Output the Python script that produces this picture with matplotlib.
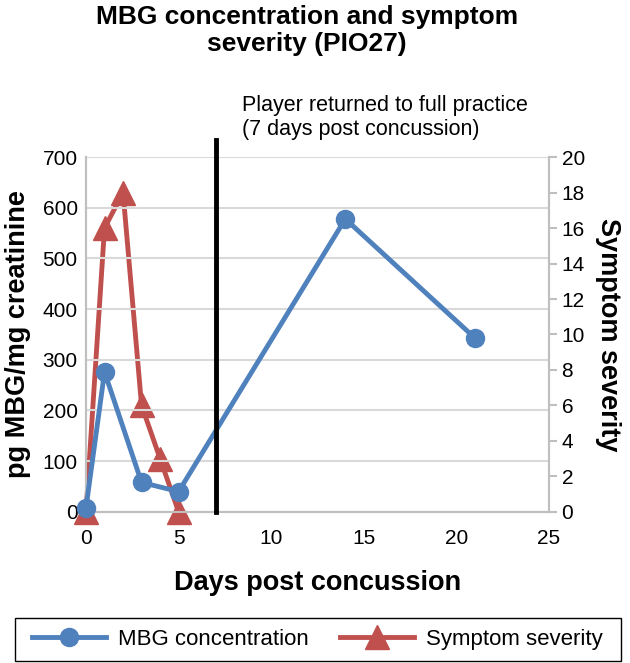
import matplotlib.pyplot as plt
from matplotlib.patches import Rectangle

plt.rcParams['font.family'] = ['Liberation Sans', 'DejaVu Sans']

mbg_days = [0, 1, 3, 5, 14, 21]
mbg_values = [8, 276, 58, 40, 578, 343]
sym_days = [0, 1, 2, 3, 4, 5]
sym_values = [0, 16, 18, 6, 3, 0]
return_day = 7

blue = '#4F81BD'
red = '#C0504D'
grey = '#BFBFBF'

fig = plt.figure(figsize=(6.3, 6.63), dpi=100)
ax = fig.add_axes([0.1365, 0.228, 0.735, 0.535])
ax2 = ax.twinx()

l1, = ax.plot(mbg_days, mbg_values, color=blue, lw=3.5, marker='o', ms=13,
              label='MBG concentration', zorder=3, clip_on=False)
l2, = ax2.plot(sym_days, sym_values, color=red, lw=3.5, marker='^', ms=17,
               label='Symptom severity', zorder=3, clip_on=False)
ax.set_zorder(ax2.get_zorder() + 1)
ax.patch.set_visible(False)

ax.axvline(return_day, color='black', lw=3.5, ymin=0, ymax=1.048, clip_on=False, zorder=4)
ax.text(return_day + 1.4, 822, 'Player returned to full practice\n(7 days post concussion)',
        fontsize=15.5, va='top', ha='left', linespacing=1.15)

ax.set_xlim(0, 25)
ax.set_ylim(0, 700)
ax2.set_ylim(0, 20)
ax.set_xticks(range(0, 26, 5))
ax.set_yticks(range(0, 701, 100))
ax2.set_yticks(range(0, 21, 2))

ax.grid(axis='y', color='#D9D9D9', lw=1.5)
for a in (ax, ax2):
    a.spines['top'].set_visible(False)
    for s in ('left', 'right', 'bottom'):
        a.spines[s].set_color(grey)
        a.spines[s].set_linewidth(1.5)
ax.tick_params(axis='x', labelsize=15, length=0, pad=12)
ax.tick_params(axis='y', labelsize=15, length=0, pad=6)
ax2.tick_params(axis='y', labelsize=15, length=6, color=grey, width=1.5, pad=3)

ax.set_xlabel('Days post concussion', fontsize=19.5, fontweight='bold', labelpad=16)
ax.set_ylabel('pg MBG/mg creatinine', fontsize=19.5, fontweight='bold', labelpad=8)
ax2.set_ylabel('Symptom severity', fontsize=19.5, fontweight='bold', rotation=270, labelpad=26)

fig.text(0.487, 0.993, 'MBG concentration and symptom\nseverity (PIO27)', ha='center', va='top',
         fontsize=19, fontweight='bold', linespacing=1.2)

# legend box drawn separately so it spans the figure width like the original
fig.patches.append(Rectangle((0.024, 0.003), 0.962, 0.065, transform=fig.transFigure,
                             fill=False, edgecolor='black', lw=1.0))
leg = fig.legend(handles=[l1, l2], loc='center left', bbox_to_anchor=(0.05, 0.0355),
                 ncol=2, fontsize=16, frameon=False, handlelength=3.33,
                 handletextpad=0.55, columnspacing=1.4, borderpad=0, borderaxespad=0)

fig.savefig('out.png', dpi=100)
